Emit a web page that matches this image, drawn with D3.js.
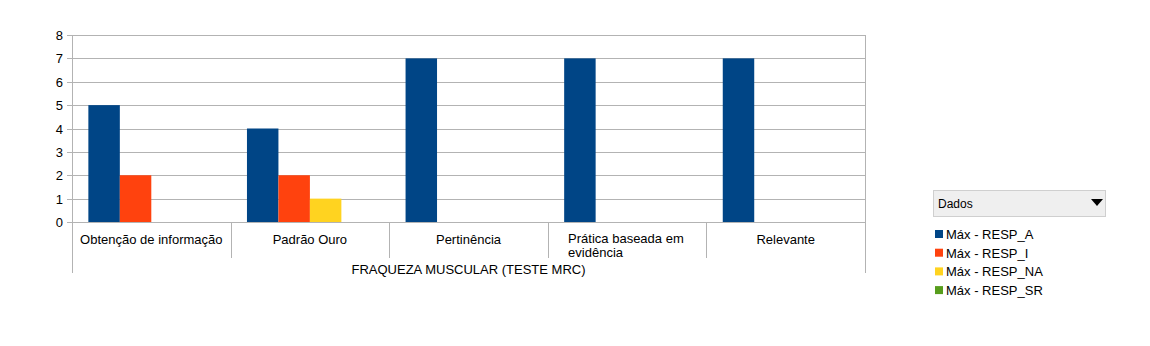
<!DOCTYPE html>
<html><head><meta charset="utf-8">
<script src="https://cdn.jsdelivr.net/npm/d3@7"></script>
<style>body{margin:0;background:#fff}svg{display:block}text{font-family:"Liberation Sans",Arial,sans-serif}</style>
</head><body><svg id="c" width="1150" height="346"></svg>
<script>
const categories = [["Obtenção de informação"],["Padrão Ouro"],["Pertinência"],["Prática baseada em","evidência"],["Relevante"]];
const seriesNames = ["Máx - RESP_A","Máx - RESP_I","Máx - RESP_NA","Máx - RESP_SR"];
const respA = [5,4,7,7,7];
const respI = [2,2,0,0,0];
const respNA = [0,1,0,0,0];
const respSR = [0,0,0,0,0];
const yTicks = [0,1,2,3,4,5,6,7,8];
const groupLabel = "FRAQUEZA MUSCULAR (TESTE MRC)";
const colors = ["#004586","#ff420e","#ffd320","#579d1c"];
const series = [respA,respI,respNA,respSR];

const svg = d3.select("#c");
const L=72,R=865,T=35,B=222;
const x = d3.scaleBand().domain(d3.range(categories.length)).range([L,R]);
const xs = d3.scaleBand().domain(d3.range(series.length)).range([0,x.bandwidth()]).paddingOuter(0.52).paddingInner(0);
const y = d3.scaleLinear().domain([0,8]).range([B,T]);

// grid
svg.append("g").selectAll("line").data(yTicks).join("line")
 .attr("x1",L-5).attr("x2",R).attr("y1",d=>Math.round(y(d))+0.5).attr("y2",d=>Math.round(y(d))+0.5)
 .attr("stroke","#b3b3b3").attr("stroke-width",1);
svg.append("g").selectAll("text").data(yTicks).join("text")
 .attr("x",L-9).attr("y",d=>y(d)+5).attr("text-anchor","end").attr("font-size",13).attr("fill","#000").text(d=>d);
// separators
const seps = d3.range(categories.length+1);
svg.append("g").selectAll("line").data(seps).join("line")
 .attr("x1",d=>Math.round(d<categories.length? x(d): R)+0.5).attr("x2",d=>Math.round(d<categories.length? x(d): R)+0.5)
 .attr("y1",d=>(d===0||d===categories.length)?T:B)
 .attr("y2",d=>(d===0||d===categories.length)?273:258)
 .attr("stroke","#b3b3b3");
// bars
series.forEach((s,si)=>{
  svg.append("g").selectAll("rect").data(s).join("rect")
   .attr("x",(d,i)=>x(i)+xs(si)).attr("width",xs.bandwidth())
   .attr("y",d=>y(d)).attr("height",d=>y(0)-y(d)).attr("fill",colors[si]);
});
// category labels
categories.forEach((c,i)=>{
  const t = svg.append("text").attr("font-size",13).attr("fill","#000");
  if(c.length===1){
    t.attr("x",x(i)+x.bandwidth()/2).attr("y",244).attr("text-anchor","middle").text(c[0]);
  } else {
    c.forEach((line,k)=>t.append("tspan").attr("x",x(i)+x.bandwidth()/2-59).attr("y",243+k*14).text(line));
  }
});
svg.append("text").attr("x",(L+R)/2).attr("y",274).attr("text-anchor","middle").attr("font-size",13).attr("fill","#000").text(groupLabel);

// legend
const lg = svg.append("g");
lg.append("rect").attr("x",933.5).attr("y",190.5).attr("width",172).attr("height",26).attr("fill","#efefef").attr("stroke","#cfcfcf");
lg.append("text").attr("x",938).attr("y",208).attr("font-size",12).attr("fill","#000").text("Dados");
lg.append("path").attr("d","M1091,199 L1103,199 L1097,206 Z").attr("fill","#000");
seriesNames.forEach((n,i)=>{
  lg.append("rect").attr("x",935).attr("y",230+i*18.7).attr("width",8).attr("height",8).attr("fill",colors[i]);
  lg.append("text").attr("x",946).attr("y",239+i*18.7).attr("font-size",13).attr("fill","#000").text(n);
});
</script></body></html>
